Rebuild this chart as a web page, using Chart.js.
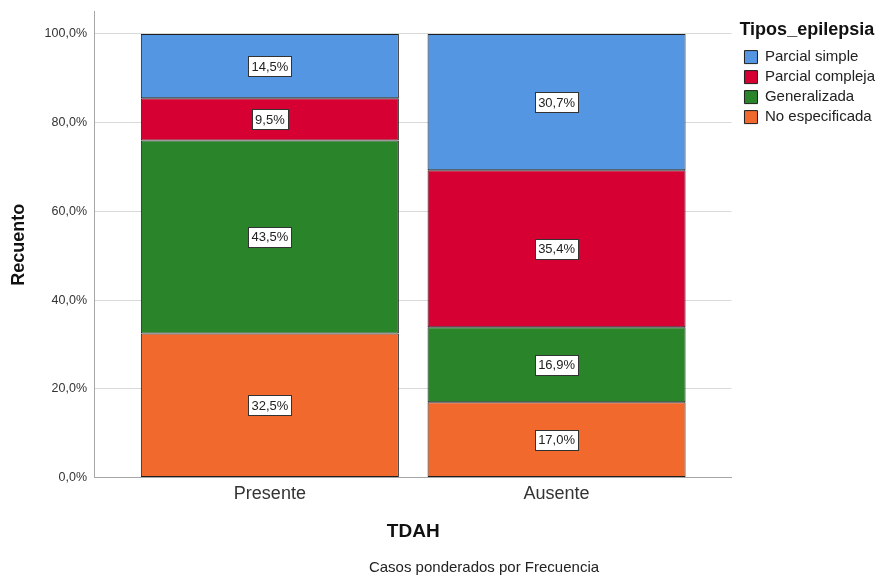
<!DOCTYPE html>
<html>
<head>
<meta charset="utf-8">
<script src="https://cdn.jsdelivr.net/npm/chart.js@4"></script>
<style>
  html, body { margin: 0; padding: 0; background: #fff; }
  #wrap { width: 882px; height: 576px; }
</style>
</head>
<body>
<div id="wrap"><canvas id="chart" width="882" height="576"></canvas></div>
<script>
const categories = ['Presente', 'Ausente'];
const tipos = ['No especificada', 'Generalizada', 'Parcial compleja', 'Parcial simple'];
const noEspecificada = [32.5, 17.0];
const generalizada = [43.5, 16.9];
const parcialCompleja = [9.5, 35.4];
const parcialSimple = [14.5, 30.7];
const yTicks = [0, 20, 40, 60, 80, 100];

const colors = ['#f2692d', '#2a852a', '#d60032', '#5596e3'];
const seriesValues = [noEspecificada, generalizada, parcialCompleja, parcialSimple];
const FONT = '"Liberation Sans", Arial, sans-serif';

const fmt = v => v.toFixed(1).replace('.', ',') + '%';

const datasets = tipos.map((name, i) => ({
    label: name,
    data: seriesValues[i].map((v, j) => ({ x: j, y: v })),
    backgroundColor: colors[i],
    borderColor: '#1e1e1e',
    borderWidth: 1,
    borderSkipped: false,
    barPercentage: 0.9,
    categoryPercentage: 1
}));

// white boxed percentage labels in the middle of each segment + footer note
const boxLabels = {
    id: 'boxLabels',
    afterLayout(chart) {
        // nudge legend a bit away from the plot
        chart.legend.left += 8;
        chart.legend.right += 8;
    },
    afterDatasetsDraw(chart) {
        const ctx = chart.ctx;
        ctx.save();
        ctx.font = '13px ' + FONT;
        ctx.textAlign = 'center';
        ctx.textBaseline = 'middle';
        chart.data.datasets.forEach((ds, i) => {
            chart.getDatasetMeta(i).data.forEach((bar, j) => {
                const txt = fmt(seriesValues[i][j]);
                const cy = (bar.y + bar.base) / 2;
                const w = Math.round(ctx.measureText(txt).width + 6);
                const h = 20;
                const x0 = Math.round(bar.x - w / 2) + 0.5;
                const y0 = Math.round(cy - h / 2) + 0.5;
                ctx.fillStyle = '#fff';
                ctx.fillRect(x0, y0, w, h);
                ctx.strokeStyle = '#333';
                ctx.lineWidth = 1;
                ctx.strokeRect(x0, y0, w, h);
                ctx.fillStyle = '#222';
                ctx.fillText(txt, bar.x, cy + 1);
            });
        });
        ctx.restore();
    },
    afterDraw(chart) {
        const ctx = chart.ctx;
        ctx.save();
        ctx.font = '15px ' + FONT;
        ctx.fillStyle = '#222';
        ctx.textAlign = 'center';
        ctx.textBaseline = 'middle';
        ctx.fillText('Casos ponderados por Frecuencia', 484, 568);
        ctx.restore();
    }
};

new Chart(document.getElementById('chart'), {
    type: 'bar',
    data: { datasets: datasets },
    options: {
        responsive: false,
        animation: false,
        layout: { padding: { top: 10, left: 4, right: 5, bottom: 33 } },
        scales: {
            x: {
                type: 'linear',
                stacked: true,
                offset: false,
                min: -0.61,
                max: 1.61,
                afterBuildTicks: s => { s.ticks = categories.map((c, i) => ({ value: i })); },
                grid: { display: false, drawTicks: false },
                border: { color: '#a6a6a6', width: 1 },
                ticks: {
                    padding: 6,
                    color: '#333',
                    font: { family: FONT, size: 18 },
                    callback: v => categories[v]
                },
                title: {
                    display: true,
                    text: 'TDAH',
                    color: '#111',
                    font: { family: FONT, size: 19, weight: 'bold' },
                    padding: { top: 9, bottom: 0 }
                }
            },
            y: {
                stacked: true,
                min: 0,
                max: 105,
                afterBuildTicks: s => { s.ticks = yTicks.map(v => ({ value: v })); },
                grid: { color: '#d9d9d9', drawTicks: false },
                border: { color: '#a6a6a6', width: 1 },
                ticks: {
                    padding: 8,
                    color: '#333',
                    font: { family: FONT, size: 12.5, lineHeight: 0.6 },
                    callback: v => fmt(v)
                },
                title: {
                    display: true,
                    text: 'Recuento',
                    color: '#111',
                    font: { family: FONT, size: 18, weight: 'bold' },
                    padding: { top: 4, bottom: 7 }
                }
            }
        },
        plugins: {
            tooltip: { enabled: false },
            legend: {
                position: 'right',
                align: 'start',
                reverse: true,
                title: {
                    display: true,
                    text: 'Tipos_epilepsia',
                    position: 'start',
                    color: '#111',
                    font: { family: FONT, size: 18, weight: 'bold' },
                    padding: { top: 11, bottom: 2 }
                },
                labels: {
                    boxWidth: 13,
                    boxHeight: 13,
                    padding: 5,
                    color: '#222',
                    font: { family: FONT, size: 15 }
                }
            }
        }
    },
    plugins: [boxLabels]
});
</script>
</body>
</html>
